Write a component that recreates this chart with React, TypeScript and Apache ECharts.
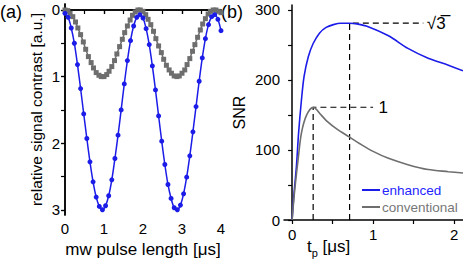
import React, { useEffect, useRef } from "react";
import * as echarts from "echarts";

// ---- panel (a): Rabi oscillations ----
const rabiTimes = [0,0.08,0.16,0.24,0.32,0.4,0.48,0.56,0.64,0.72,0.8,0.88,0.96,1.04,1.12,1.2,1.28,1.36,1.44,1.52,1.6,1.68,1.76,1.84,1.92,2,2.08,2.16,2.24,2.32,2.4,2.48,2.56,2.64,2.72,2.8,2.88,2.96,3.04,3.12,3.2,3.28,3.36,3.44,3.52,3.6,3.68,3.76,3.84,3.92,4];
const rabiEnhanced = [0.05,0.11,0.27,0.50,0.82,1.18,1.56,1.93,2.28,2.58,2.81,2.95,3.00,2.94,2.79,2.55,2.23,1.88,1.50,1.11,0.76,0.46,0.24,0.11,0.07,0.12,0.28,0.52,0.84,1.20,1.59,1.97,2.32,2.62,2.83,2.97,3.00,2.93,2.76,2.51,2.19,1.83,1.45,1.07,0.72,0.43,0.22,0.10,0.07,0.14,0.31];
const convTimes = [0,0.07,0.13,0.2,0.27,0.33,0.4,0.47,0.53,0.6,0.67,0.73,0.8,0.87,0.93,1,1.07,1.13,1.2,1.27,1.33,1.4,1.47,1.53,1.6,1.67,1.73,1.8,1.87,1.93,2,2.07,2.13,2.2,2.27,2.33,2.4,2.47,2.53,2.6,2.67,2.73,2.8,2.87,2.93,3,3.07,3.13,3.2,3.27,3.33,3.4,3.47,3.53,3.6,3.67,3.73,3.8,3.87,3.93,4];
const rabiConventional = [0.00,0.01,0.05,0.10,0.18,0.27,0.37,0.48,0.59,0.70,0.79,0.87,0.94,0.98,1.00,1.00,0.97,0.92,0.85,0.76,0.66,0.55,0.44,0.34,0.24,0.15,0.08,0.03,0.00,0.00,0.02,0.07,0.14,0.22,0.32,0.43,0.54,0.64,0.74,0.83,0.90,0.95,0.99,1.00,0.99,0.95,0.90,0.82,0.73,0.62,0.52,0.41,0.30,0.21,0.13,0.06,0.02,0.00,0.00,0.02,0.04];
const aYLabels = [0, 1, 2, 3];
const aYTicks = [0, 0.5, 1, 1.5, 2, 2.5, 3];
const aXTop = [1, 2, 3];

// ---- panel (b): SNR ----
const snrEnhT = [0,0.02,0.053,0.08,0.115,0.148,0.2,0.26,0.34,0.42,0.51,0.6,0.71,0.8,0.94,1.19,1.43,1.68,1.93,2.11];
const snrEnh = [0,33,76,124,171,205,233,252,267,275,279,281,281,280,276,263,245,231,221,213];
const snrConvT = [0,0.03,0.074,0.115,0.18,0.26,0.3,0.35,0.44,0.55,0.7,0.85,1.0,1.19,1.43,1.68,1.93,2.11];
const snrConv = [0,40,86,124,150,161,158,151,140,130,119,108,98,88,79,72,69,67];
const enhPeak = [0.71, 281];
const convPeak = [0.26, 161];
const enhDashEnd = 1.62;
const convDashEnd = 1.0;
const enhRatio = "√3\u0305";
const convRatio = "1";
const bYLabels = [0, 100, 200, 300];
const bYTicks = [0, 50, 100, 150, 200, 250, 300];
const bXLabels = [0, 1, 2];
const bXTicks = [0, 0.5, 1, 1.5, 2];

const BLUE = "#1c1ce8";
const GRAY = "#6e6e6e";
const FONT = "Liberation Sans, Arial, sans-serif";

const zip = (a: number[], b: number[]) => a.map((x, i) => [x, b[i]]);

const axisLine = { show: true, lineStyle: { color: "#000", width: 1.5 } };
const labelStyle = { color: "#000", fontSize: 15, fontFamily: FONT };
const tickStyle = { color: "#000", width: 1.2 };

const dashSeries = (name: string, peak: number[], end: number, text: string, dist: number) => ({
  name, type: "line", xAxisIndex: 2, yAxisIndex: 2,
  symbol: "circle", symbolSize: 1, showSymbol: true,
  itemStyle: { color: "transparent" },
  lineStyle: { color: "#000", width: 1.2, type: [6, 4] },
  label: { show: false },
  data: [
    [peak[0], 0],
    [peak[0], peak[1]],
    {
      value: [end, peak[1]],
      label: { show: true, position: "right", distance: dist, formatter: text, color: "#000", fontSize: 17, fontFamily: FONT },
    },
  ],
});

export default function App() {
  const ref = useRef<HTMLDivElement>(null);
  useEffect(() => {
    if (!ref.current) return;
    const chart = echarts.init(ref.current, null, { renderer: "svg" });
    const option: any = {
      animation: false,
      textStyle: { fontFamily: FONT },
      grid: [
        { left: 65, top: 4, width: 156, height: 213 },
        { left: 284, top: 5, width: 179, height: 215 },
      ],
      xAxis: [
        {
          gridIndex: 0, type: "value", min: 0, max: 4, position: "bottom",
          axisLine, splitLine: { show: false },
          axisTick: { show: true, length: 4, lineStyle: tickStyle, customValues: [0, 0.5, 1, 1.5, 2, 2.5, 3, 3.5, 4] },
          axisLabel: { ...labelStyle, margin: 6, customValues: [0, 1, 2, 3, 4] },
          name: "mw pulse length [μs]", nameLocation: "middle", nameGap: 21,
          nameTextStyle: { ...labelStyle, fontSize: 17 },
        },
        {
          gridIndex: 0, type: "value", min: 0, max: 4, position: "top",
          axisLine, splitLine: { show: false },
          axisTick: { show: true, inside: true, length: 4, lineStyle: tickStyle, customValues: aXTop },
          axisLabel: { show: false },
        },
        {
          gridIndex: 1, type: "value", min: -0.1, max: 2.11, position: "bottom",
          axisLine, splitLine: { show: false },
          axisTick: { show: true, length: 4, lineStyle: tickStyle, customValues: bXTicks },
          axisLabel: { ...labelStyle, margin: 7, customValues: bXLabels },
        },
      ],
      yAxis: [
        {
          gridIndex: 0, type: "value", min: -0.09, max: 3.08, inverse: true, position: "left",
          axisLine, splitLine: { show: false },
          axisTick: { show: true, length: 4, lineStyle: tickStyle, customValues: aYTicks },
          axisLabel: { ...labelStyle, margin: 5, customValues: aYLabels },
          name: "relative signal contrast [a.u.]", nameLocation: "middle", nameGap: 21,
          nameTextStyle: { ...labelStyle, fontSize: 15.5 },
        },
        {
          gridIndex: 0, type: "value", min: -0.09, max: 3.08, inverse: true, position: "right",
          axisLine, splitLine: { show: false },
          axisTick: { show: true, inside: true, length: 4, lineStyle: tickStyle, customValues: aYLabels },
          axisLabel: { show: false },
        },
        {
          gridIndex: 1, type: "value", min: 0, max: 307, position: "left",
          axisLine, splitLine: { show: false },
          axisTick: { show: true, length: 4, lineStyle: tickStyle, customValues: bYTicks },
          axisLabel: { ...labelStyle, margin: 4, customValues: bYLabels },
          name: "SNR", nameLocation: "middle", nameGap: 37,
          nameTextStyle: { ...labelStyle, fontSize: 16 },
        },
      ],
      legend: {
        orient: "vertical", left: 357, top: 178, itemWidth: 18, itemHeight: 2, itemGap: 3,
        icon: "rect",
        textStyle: { fontSize: 13.5, fontFamily: FONT, lineHeight: 14, padding: [0, 0, 0, -3] },
        data: [
          { name: "enhanced", textStyle: { color: "#2424ff" } },
          { name: "conventional", textStyle: { color: "#777777" } },
        ],
      },
      series: [
        {
          name: "rabi-conv", type: "line", xAxisIndex: 0, yAxisIndex: 0,
          data: zip(convTimes, rabiConventional), symbol: "rect", symbolSize: 5,
          lineStyle: { color: GRAY, width: 1.5 }, itemStyle: { color: GRAY }, clip: false,
        },
        {
          name: "rabi-enh", type: "line", xAxisIndex: 0, yAxisIndex: 0,
          data: zip(rabiTimes, rabiEnhanced), symbol: "circle", symbolSize: 5, smooth: 0.3,
          lineStyle: { color: BLUE, width: 1.5 }, itemStyle: { color: BLUE }, clip: false,
        },
        dashSeries("dash-enh", enhPeak, enhDashEnd, enhRatio, 3),
        dashSeries("dash-conv", convPeak, convDashEnd, convRatio, 5),
        {
          name: "enhanced", type: "line", xAxisIndex: 2, yAxisIndex: 2, symbol: "none", smooth: 0.3,
          data: zip(snrEnhT, snrEnh), lineStyle: { color: BLUE, width: 1.6 }, itemStyle: { color: BLUE },
        },
        {
          name: "conventional", type: "line", xAxisIndex: 2, yAxisIndex: 2, symbol: "none", smooth: 0.3,
          data: zip(snrConvT, snrConv), lineStyle: { color: GRAY, width: 1.6 }, itemStyle: { color: GRAY },
        },
      ],
      graphic: [
        { type: "text", left: 0, top: 3, style: { text: "(a)", fontSize: 18, fontFamily: FONT, fill: "#000" } },
        { type: "text", left: 221, top: 3, style: { text: "(b)", fontSize: 18, fontFamily: FONT, fill: "#000" } },
        {
          type: "text", left: 307, top: 238,
          style: {
            text: "{t|t}{p|p}{t| [μs]}",
            fill: "#000",
            rich: {
              t: { fontSize: 17, fontFamily: FONT, lineHeight: 20, verticalAlign: "top" },
              p: { fontSize: 11, fontFamily: FONT, lineHeight: 20, verticalAlign: "bottom", padding: [9, 0, 0, 0] },
            },
          },
        },
      ],
    };
    chart.setOption(option);
    return () => chart.dispose();
  }, []);
  return <div ref={ref} style={{ position: "absolute", left: 0, top: 0, width: 463, height: 263 }} />;
}
